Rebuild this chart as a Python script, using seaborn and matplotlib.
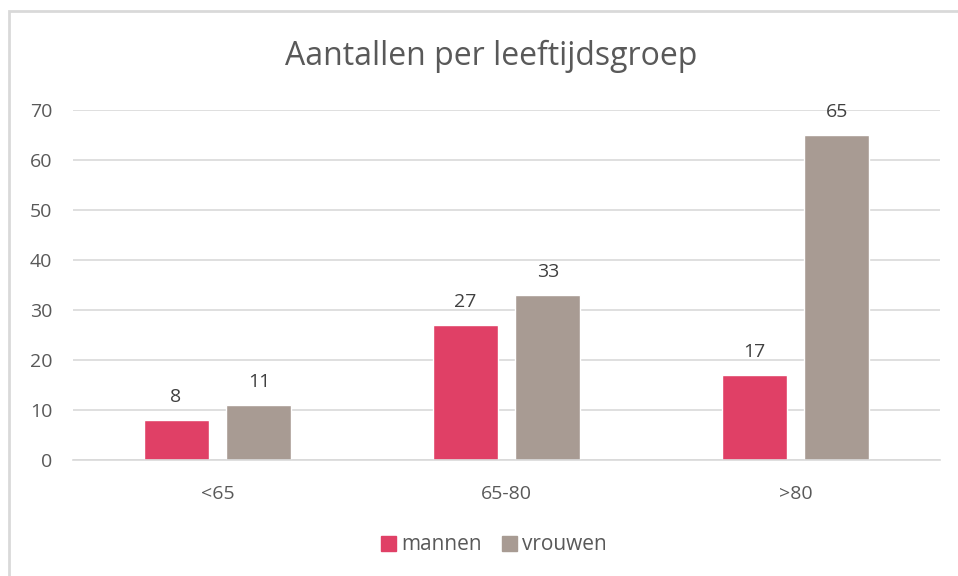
import pandas as pd
import matplotlib.pyplot as plt
import seaborn as sns
from matplotlib.patches import Rectangle

# data
groepen = ['<65', '65-80', '>80']
mannen = [8, 27, 17]
vrouwen = [11, 33, 65]

df = pd.DataFrame({
    'groep': groepen * 2,
    'geslacht': ['mannen'] * 3 + ['vrouwen'] * 3,
    'aantal': mannen + vrouwen,
})

sns.set_theme(style='white')
plt.rcParams['font.family'] = ['Open Sans', 'DejaVu Sans']

tekst = '#595959'
raster = '#D9D9D9'
kleuren = {'mannen': '#E04066', 'vrouwen': '#A89B93'}

fig = plt.figure(figsize=(9.58, 5.76), dpi=100)
ax = fig.add_axes([73 / 958, 1 - 460 / 576, (940 - 73) / 958, 350 / 576])

sns.barplot(data=df, x='groep', y='aantal', hue='geslacht', palette=kleuren,
            width=0.574, gap=0.216, ax=ax, legend=False, saturation=1)

for cont in ax.containers:
    ax.bar_label(cont, padding=10, fontsize=14, color='#404040')

ax.set_ylim(0, 70)
ax.set_yticks(range(0, 71, 10))
ax.set_xlim(-0.5, 2.5)
ax.yaxis.grid(True, color=raster, linewidth=1.2)
ax.set_axisbelow(True)
for s in ['top', 'right', 'left']:
    ax.spines[s].set_visible(False)
ax.spines['bottom'].set_color(raster)
ax.spines['bottom'].set_linewidth(1.2)
ax.tick_params(axis='both', length=0, labelsize=14, labelcolor=tekst)
ax.tick_params(axis='y', pad=15)
ax.tick_params(axis='x', pad=18)
ax.set_xlabel('')
ax.set_ylabel('')

fig.text(491 / 958, 1 - 56 / 576, 'Aantallen per leeftijdsgroep', ha='center', va='center',
         fontsize=23, color=tekst)

handles = [Rectangle((0, 0), 1, 1, color=kleuren[k]) for k in ['mannen', 'vrouwen']]
fig.legend(handles, ['mannen', 'vrouwen'], loc='center', bbox_to_anchor=(494 / 958, 1 - 545 / 576),
           ncol=2, frameon=False, fontsize=15, labelcolor=tekst, handlelength=0.7,
           handleheight=0.7, handletextpad=0.25, columnspacing=1.0)

# rand rond de grafiek
fig.patches.append(Rectangle((9 / 958, -0.1), 1.1, 1 - 11 / 576 + 0.1, transform=fig.transFigure,
                             fill=False, edgecolor=raster, linewidth=2))

fig.savefig('out.png', dpi=100)
